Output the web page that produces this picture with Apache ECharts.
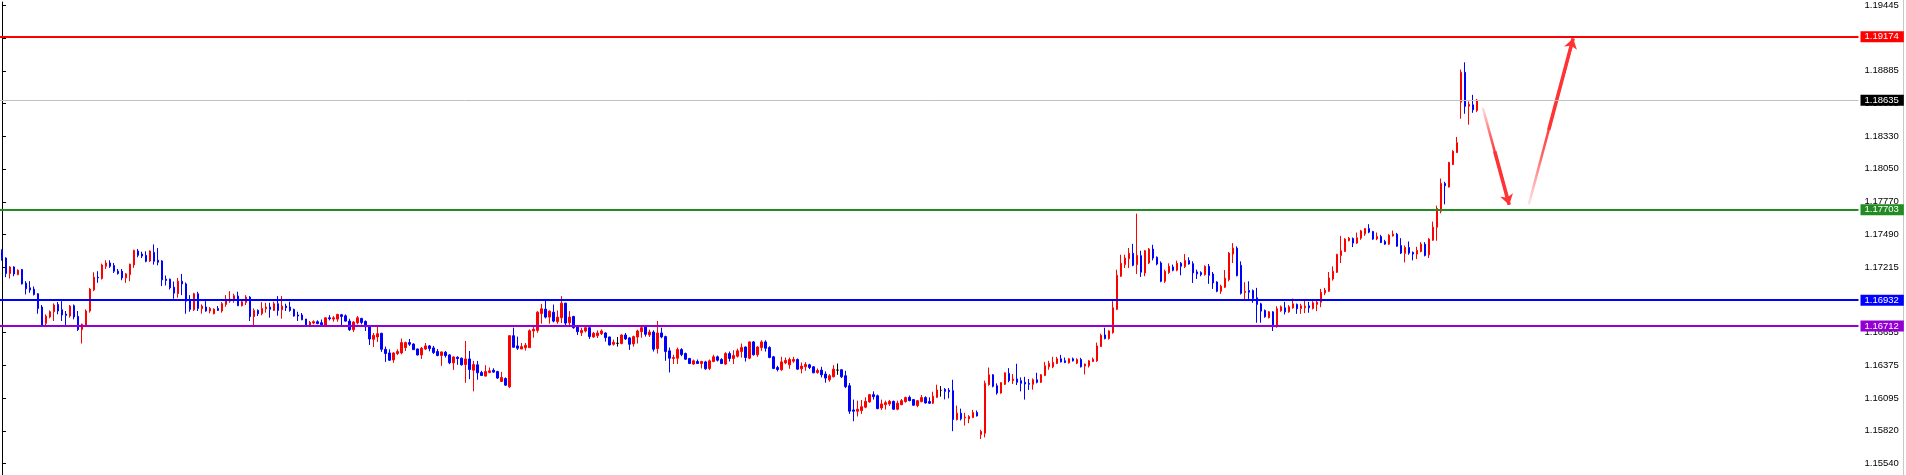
<!DOCTYPE html>
<html><head><meta charset="utf-8">
<script src="https://cdn.jsdelivr.net/npm/echarts@6/dist/echarts.min.js"></script>
<style>html,body{margin:0;padding:0;background:#fff;overflow:hidden}#c{width:1906px;height:475px}</style>
</head><body><div id="c"></div>
<script>
const opens = [
1.17356,1.17291,1.17159,1.17215,1.17150,1.17193,1.17077,1.17037,1.17026,1.16987,
1.16874,1.16735,1.16789,1.16834,1.16896,1.16851,1.16814,1.16797,1.16885,1.16795,
1.16682,1.16721,1.16840,1.17020,1.17128,1.17116,1.17221,1.17249,1.17227,1.17179,
1.17179,1.17122,1.17150,1.17232,1.17351,1.17325,1.17314,1.17266,1.17339,1.17272,
1.17266,1.17111,1.17111,1.17043,1.16987,1.17094,1.17071,1.16930,1.16851,1.16987,
1.16860,1.16874,1.16840,1.16817,1.16862,1.16840,1.16896,1.16924,1.16930,1.16967,
1.16885,1.16913,1.16958,1.16792,1.16845,1.16817,1.16860,1.16874,1.16845,1.16902,
1.16851,1.16882,1.16874,1.16854,1.16806,1.16806,1.16772,1.16710,1.16738,1.16749,
1.16740,1.16720,1.16782,1.16771,1.16771,1.16808,1.16799,1.16754,1.16681,1.16740,
1.16777,1.16751,1.16712,1.16599,1.16619,1.16650,1.16514,1.16483,1.16424,1.16478,
1.16483,1.16528,1.16571,1.16559,1.16517,1.16466,1.16517,1.16543,1.16526,1.16495,
1.16461,1.16489,1.16466,1.16399,1.16446,1.16438,1.16384,1.16432,1.16336,1.16382,
1.16317,1.16286,1.16317,1.16336,1.16325,1.16240,1.16266,1.16195,1.16630,1.16543,
1.16517,1.16528,1.16528,1.16670,1.16675,1.16819,1.16856,1.16788,1.16830,1.16749,
1.16782,1.16907,1.16740,1.16794,1.16703,1.16655,1.16670,1.16698,1.16619,1.16630,
1.16647,1.16653,1.16619,1.16557,1.16565,1.16563,1.16636,1.16611,1.16560,1.16619,
1.16664,1.16704,1.16636,1.16661,1.16520,1.16653,1.16622,1.16501,1.16436,1.16438,
1.16512,1.16478,1.16436,1.16388,1.16410,1.16393,1.16407,1.16351,1.16410,1.16450,
1.16427,1.16388,1.16478,1.16436,1.16455,1.16495,1.16534,1.16438,1.16577,1.16467,
1.16529,1.16577,1.16529,1.16450,1.16359,1.16340,1.16399,1.16382,1.16413,1.16427,
1.16348,1.16365,1.16382,1.16365,1.16317,1.16337,1.16303,1.16255,1.16280,1.16337,
1.16340,1.16289,1.16204,1.15998,1.15987,1.15992,1.16021,1.16066,1.16128,1.16119,
1.16015,1.16043,1.16049,1.16071,1.16004,1.16043,1.16069,1.16105,1.16086,1.16035,
1.16069,1.16103,1.16069,1.16055,1.16105,1.16165,1.16173,1.16165,1.16162,1.15916,
1.15970,1.15930,1.15922,1.15933,1.15976,1.15789,1.15800,1.16213,1.16297,1.16204,
1.16142,1.16216,1.16309,1.16247,1.16261,1.16247,1.16233,1.16224,1.16216,1.16255,
1.16233,1.16292,1.16365,1.16365,1.16393,1.16433,1.16416,1.16399,1.16433,1.16396,
1.16427,1.16371,1.16374,1.16410,1.16416,1.16537,1.16636,1.16605,1.16656,1.16854,
1.17136,1.17235,1.17285,1.17331,1.17235,1.17311,1.17164,1.17249,1.17367,1.17297,
1.17249,1.17093,1.17167,1.17215,1.17187,1.17246,1.17218,1.17269,1.17243,1.17173,
1.17167,1.17150,1.17220,1.17155,1.17087,1.17008,1.17042,1.17107,1.17325,1.17375,
1.17229,1.16997,1.17014,1.17014,1.16952,1.16901,1.16845,1.16783,1.16833,1.16706,
1.16842,1.16867,1.16833,1.16867,1.16896,1.16862,1.16867,1.16884,1.16862,1.16896,
1.16915,1.16994,1.17008,1.17113,1.17169,1.17313,1.17347,1.17440,1.17457,1.17418,
1.17460,1.17497,1.17542,1.17517,1.17454,1.17474,1.17432,1.17409,1.17480,1.17494,
1.17398,1.17330,1.17381,1.17339,1.17325,1.17347,1.17409,1.17319,1.17443,1.17553,
1.17690,1.17926,1.17895,1.18087,1.18189,1.18618,1.18872,1.18584,1.18595,1.18548
];
const closes = [
1.17286,1.17159,1.17215,1.17156,1.17187,1.17071,1.17029,1.17018,1.16981,1.16860,
1.16718,1.16797,1.16834,1.16891,1.16840,1.16806,1.16803,1.16882,1.16789,1.16682,
1.16727,1.16840,1.17026,1.17128,1.17122,1.17232,1.17249,1.17221,1.17179,1.17159,
1.17122,1.17156,1.17238,1.17356,1.17314,1.17308,1.17263,1.17351,1.17263,1.17255,
1.17105,1.17100,1.17037,1.16992,1.17094,1.17071,1.16924,1.16854,1.16987,1.16862,
1.16882,1.16840,1.16862,1.16857,1.16845,1.16902,1.16930,1.16941,1.16970,1.16885,
1.16919,1.16958,1.16792,1.16845,1.16817,1.16862,1.16874,1.16854,1.16902,1.16845,
1.16882,1.16868,1.16845,1.16797,1.16797,1.16766,1.16710,1.16744,1.16749,1.16733,
1.16723,1.16782,1.16774,1.16782,1.16811,1.16794,1.16754,1.16681,1.16746,1.16782,
1.16743,1.16706,1.16602,1.16633,1.16647,1.16514,1.16478,1.16421,1.16483,1.16495,
1.16571,1.16571,1.16557,1.16511,1.16466,1.16523,1.16543,1.16520,1.16486,1.16461,
1.16492,1.16461,1.16399,1.16449,1.16435,1.16382,1.16432,1.16342,1.16384,1.16314,
1.16291,1.16325,1.16331,1.16320,1.16269,1.16274,1.16209,1.16630,1.16531,1.16523,
1.16537,1.16548,1.16672,1.16684,1.16830,1.16859,1.16788,1.16839,1.16754,1.16788,
1.16907,1.16737,1.16788,1.16698,1.16664,1.16675,1.16698,1.16622,1.16650,1.16653,
1.16670,1.16613,1.16551,1.16574,1.16565,1.16636,1.16602,1.16557,1.16622,1.16670,
1.16698,1.16642,1.16661,1.16515,1.16653,1.16619,1.16495,1.16438,1.16444,1.16512,
1.16469,1.16430,1.16393,1.16416,1.16393,1.16410,1.16348,1.16416,1.16450,1.16421,
1.16393,1.16478,1.16436,1.16461,1.16501,1.16529,1.16444,1.16577,1.16467,1.16534,
1.16577,1.16523,1.16444,1.16351,1.16342,1.16407,1.16419,1.16427,1.16427,1.16345,
1.16371,1.16385,1.16359,1.16314,1.16334,1.16297,1.16269,1.16289,1.16345,1.16337,
1.16280,1.16196,1.15987,1.15987,1.16004,1.16026,1.16071,1.16128,1.16111,1.16009,
1.16049,1.16060,1.16071,1.16004,1.16055,1.16077,1.16103,1.16077,1.16038,1.16077,
1.16103,1.16057,1.16055,1.16114,1.16168,1.16165,1.16156,1.16153,1.15916,1.15970,
1.15922,1.15936,1.15942,1.15976,1.15947,1.15815,1.16224,1.16297,1.16199,1.16142,
1.16230,1.16314,1.16247,1.16261,1.16233,1.16224,1.16219,1.16216,1.16255,1.16233,
1.16297,1.16374,1.16393,1.16402,1.16433,1.16407,1.16402,1.16433,1.16416,1.16427,
1.16365,1.16388,1.16416,1.16430,1.16543,1.16633,1.16605,1.16670,1.16868,1.17144,
1.17246,1.17291,1.17331,1.17229,1.17314,1.17170,1.17353,1.17367,1.17291,1.17240,
1.17093,1.17178,1.17221,1.17187,1.17246,1.17221,1.17269,1.17240,1.17164,1.17156,
1.17150,1.17220,1.17144,1.17079,1.17008,1.17051,1.17119,1.17333,1.17375,1.17141,
1.16991,1.17008,1.17000,1.16946,1.16896,1.16839,1.16791,1.16833,1.16706,1.16859,
1.16876,1.16833,1.16876,1.16901,1.16859,1.16884,1.16881,1.16867,1.16910,1.16915,
1.17000,1.17017,1.17121,1.17178,1.17322,1.17353,1.17452,1.17460,1.17418,1.17463,
1.17522,1.17542,1.17511,1.17452,1.17474,1.17423,1.17409,1.17485,1.17494,1.17392,
1.17333,1.17381,1.17333,1.17325,1.17356,1.17409,1.17313,1.17452,1.17553,1.17712,
1.17926,1.17907,1.18104,1.18200,1.18273,1.18872,1.18582,1.18599,1.18553,1.18635
];
const lows = [
1.17269,1.17128,1.17116,1.17136,1.17145,1.17066,1.16981,1.16995,1.16972,1.16817,
1.16710,1.16713,1.16778,1.16755,1.16812,1.16755,1.16710,1.16783,1.16769,1.16670,
1.16563,1.16704,1.16826,1.17009,1.17080,1.17108,1.17198,1.17207,1.17164,1.17150,
1.17102,1.17080,1.17094,1.17207,1.17297,1.17291,1.17255,1.17258,1.17235,1.17229,
1.17052,1.17057,1.17023,1.16944,1.16953,1.16975,1.16817,1.16834,1.16840,1.16840,
1.16817,1.16834,1.16820,1.16812,1.16840,1.16826,1.16876,1.16910,1.16910,1.16882,
1.16879,1.16891,1.16755,1.16710,1.16797,1.16803,1.16826,1.16783,1.16840,1.16800,
1.16775,1.16840,1.16834,1.16792,1.16755,1.16761,1.16707,1.16704,1.16727,1.16727,
1.16712,1.16712,1.16760,1.16749,1.16749,1.16720,1.16749,1.16670,1.16661,1.16726,
1.16726,1.16670,1.16551,1.16534,1.16576,1.16492,1.16407,1.16415,1.16399,1.16466,
1.16472,1.16500,1.16543,1.16509,1.16461,1.16432,1.16509,1.16497,1.16475,1.16455,
1.16373,1.16444,1.16387,1.16339,1.16382,1.16376,1.16229,1.16260,1.16156,1.16255,
1.16286,1.16283,1.16311,1.16314,1.16263,1.16235,1.16204,1.16184,1.16528,1.16509,
1.16514,1.16503,1.16526,1.16613,1.16655,1.16732,1.16777,1.16732,1.16743,1.16732,
1.16737,1.16712,1.16712,1.16689,1.16636,1.16627,1.16658,1.16602,1.16613,1.16610,
1.16636,1.16580,1.16546,1.16546,1.16537,1.16557,1.16594,1.16509,1.16537,1.16563,
1.16613,1.16622,1.16619,1.16495,1.16478,1.16608,1.16416,1.16317,1.16388,1.16388,
1.16455,1.16424,1.16388,1.16382,1.16390,1.16351,1.16340,1.16337,1.16405,1.16410,
1.16388,1.16382,1.16410,1.16388,1.16444,1.16444,1.16410,1.16430,1.16461,1.16450,
1.16501,1.16495,1.16438,1.16345,1.16326,1.16331,1.16388,1.16348,1.16399,1.16340,
1.16309,1.16331,1.16345,1.16311,1.16306,1.16275,1.16230,1.16238,1.16275,1.16297,
1.16269,1.16184,1.15964,1.15902,1.15942,1.15964,1.16012,1.16060,1.16086,1.16004,
1.15998,1.16001,1.16032,1.15998,1.15995,1.16038,1.16060,1.16072,1.16032,1.16021,
1.16063,1.16052,1.16049,1.16049,1.16100,1.16111,1.16088,1.16097,1.15817,1.15908,
1.15908,1.15865,1.15885,1.15928,1.15942,1.15750,1.15764,1.16204,1.16190,1.16128,
1.16136,1.16210,1.16233,1.16219,1.16210,1.16156,1.16086,1.16168,1.16170,1.16224,
1.16227,1.16286,1.16340,1.16354,1.16388,1.16402,1.16396,1.16393,1.16410,1.16388,
1.16359,1.16300,1.16359,1.16405,1.16407,1.16534,1.16599,1.16597,1.16647,1.16848,
1.17130,1.17206,1.17206,1.17221,1.17156,1.17130,1.17136,1.17240,1.17271,1.17229,
1.17085,1.17079,1.17156,1.17178,1.17178,1.17144,1.17206,1.17235,1.17079,1.17113,
1.17136,1.17141,1.17071,1.17028,1.17000,1.16986,1.17037,1.17093,1.17248,1.17135,
1.16980,1.16932,1.16943,1.16910,1.16740,1.16740,1.16783,1.16777,1.16670,1.16698,
1.16833,1.16811,1.16825,1.16859,1.16816,1.16816,1.16822,1.16825,1.16853,1.16839,
1.16873,1.16975,1.17003,1.17099,1.17164,1.17248,1.17342,1.17432,1.17384,1.17412,
1.17446,1.17480,1.17502,1.17446,1.17443,1.17418,1.17404,1.17404,1.17474,1.17387,
1.17325,1.17254,1.17319,1.17271,1.17282,1.17339,1.17305,1.17291,1.17438,1.17438,
1.17672,1.17748,1.17892,1.18082,1.18186,1.18477,1.18519,1.18426,1.18527,1.18533
];
const highs = [
1.17365,1.17297,1.17221,1.17221,1.17195,1.17198,1.17094,1.17094,1.17049,1.16992,
1.16891,1.16812,1.16845,1.16905,1.16916,1.16924,1.16840,1.16891,1.16896,1.16840,
1.16733,1.16854,1.17037,1.17170,1.17179,1.17243,1.17272,1.17272,1.17249,1.17198,
1.17198,1.17164,1.17243,1.17362,1.17368,1.17345,1.17348,1.17356,1.17407,1.17376,
1.17272,1.17142,1.17116,1.17091,1.17122,1.17156,1.17083,1.16975,1.16995,1.17004,
1.16896,1.16924,1.16874,1.16862,1.16882,1.16916,1.16975,1.17009,1.16987,1.17004,
1.16930,1.16975,1.16967,1.16862,1.16854,1.16916,1.16910,1.16910,1.16919,1.16967,
1.16967,1.16902,1.16919,1.16860,1.16834,1.16823,1.16772,1.16755,1.16761,1.16761,
1.16768,1.16788,1.16805,1.16797,1.16816,1.16816,1.16811,1.16774,1.16754,1.16797,
1.16782,1.16760,1.16718,1.16653,1.16720,1.16655,1.16537,1.16514,1.16489,1.16514,
1.16605,1.16579,1.16602,1.16565,1.16520,1.16534,1.16568,1.16551,1.16543,1.16517,
1.16495,1.16500,1.16472,1.16455,1.16455,1.16444,1.16585,1.16500,1.16415,1.16415,
1.16331,1.16379,1.16359,1.16353,1.16331,1.16322,1.16274,1.16633,1.16698,1.16622,
1.16568,1.16568,1.16684,1.16703,1.16839,1.16901,1.16941,1.16845,1.16895,1.16845,
1.16966,1.16910,1.16839,1.16799,1.16712,1.16698,1.16720,1.16712,1.16661,1.16675,
1.16684,1.16659,1.16622,1.16597,1.16619,1.16642,1.16653,1.16619,1.16630,1.16681,
1.16715,1.16721,1.16681,1.16676,1.16755,1.16698,1.16630,1.16529,1.16467,1.16529,
1.16523,1.16486,1.16441,1.16427,1.16427,1.16416,1.16416,1.16427,1.16467,1.16461,
1.16438,1.16489,1.16495,1.16506,1.16520,1.16563,1.16537,1.16580,1.16585,1.16540,
1.16591,1.16591,1.16540,1.16458,1.16374,1.16450,1.16444,1.16444,1.16450,1.16436,
1.16402,1.16405,1.16390,1.16371,1.16351,1.16365,1.16326,1.16303,1.16379,1.16393,
1.16345,1.16331,1.16227,1.16086,1.16077,1.16083,1.16105,1.16134,1.16156,1.16128,
1.16086,1.16077,1.16083,1.16077,1.16077,1.16091,1.16111,1.16120,1.16091,1.16083,
1.16125,1.16114,1.16105,1.16153,1.16213,1.16201,1.16184,1.16184,1.16255,1.16035,
1.16009,1.15973,1.15953,1.15998,1.15993,1.15829,1.16247,1.16359,1.16303,1.16224,
1.16235,1.16317,1.16354,1.16303,1.16391,1.16275,1.16280,1.16261,1.16266,1.16314,
1.16303,1.16407,1.16416,1.16450,1.16450,1.16467,1.16444,1.16438,1.16444,1.16438,
1.16441,1.16393,1.16422,1.16444,1.16571,1.16647,1.16698,1.16676,1.16924,1.17192,
1.17319,1.17319,1.17376,1.17412,1.17669,1.17353,1.17359,1.17376,1.17404,1.17305,
1.17263,1.17192,1.17246,1.17235,1.17269,1.17257,1.17325,1.17297,1.17263,1.17192,
1.17178,1.17229,1.17240,1.17172,1.17093,1.17065,1.17189,1.17342,1.17418,1.17390,
1.17263,1.17085,1.17093,1.17023,1.17037,1.16910,1.16853,1.16839,1.16839,1.16881,
1.16887,1.16918,1.16890,1.16946,1.16904,1.16901,1.16938,1.16918,1.16924,1.16938,
1.17028,1.17037,1.17172,1.17220,1.17327,1.17480,1.17460,1.17469,1.17466,1.17508,
1.17531,1.17545,1.17579,1.17522,1.17508,1.17488,1.17446,1.17494,1.17525,1.17505,
1.17460,1.17398,1.17432,1.17347,1.17387,1.17426,1.17426,1.17460,1.17601,1.17737,
1.17968,1.17940,1.18110,1.18209,1.18322,1.18895,1.18957,1.18624,1.18680,1.18645
];
// total bar slots across the plot (candles + empty space on the right)
const slotCount = 465;
const tickLabels = ['1.19445','1.19165','1.18885','1.18605','1.18330','1.18050','1.17770','1.17490','1.17215','1.16935','1.16655','1.16375','1.16095','1.15820','1.15540'];
const levelValues = [1.19174, 1.18635, 1.17703, 1.16932, 1.16712];
// arrows: [barIndex, price] start and end
const arrowStarts = [[370.5, 1.18571], [382.0, 1.17746]];
const arrowEnds = [[377.1, 1.17745], [393.1, 1.19160]];
const yMin = 1.15444, yMax = 1.19470;

const levelStyles = [
  {line:'#ff0000', bg:'#ff0000', w:2},
  {line:'#c0c0c0', bg:'#000000', w:1},
  {line:'#228b22', bg:'#228b22', w:2},
  {line:'#0000ff', bg:'#0000ff', w:2},
  {line:'#9400d3', bg:'#9400d3', w:2}
];

const categories = Array.from({length: slotCount}, (_, i) => String(i));
const candleData = opens.map((o, i) => [o, closes[i], lows[i], highs[i]]);
const tickValues = tickLabels.map(Number);
const FONT = 'Liberation Sans';

// arrow decoration: fading thin tail over the whole length + thick head segment
const tails = arrowStarts.map((s, i) => {
  const e = arrowEnds[i];
  const down = e[1] < s[1];
  return {coords: [s, e], lineStyle: {width: 2.5, color: new echarts.graphic.LinearGradient(0, down ? 0 : 1, 0, down ? 1 : 0,
    [{offset: 0, color: 'rgba(255,60,60,0.1)'}, {offset: 0.3, color: 'rgba(255,50,50,0.75)'}, {offset: 0.5, color: '#ff3333'}, {offset: 1, color: '#ff3333'}])}};
});
const heads = arrowStarts.map((s, i) => {
  const e = arrowEnds[i];
  const m = [s[0] + (e[0] - s[0]) * 0.45, s[1] + (e[1] - s[1]) * 0.45];
  return {coords: [m, e]};
});

const chart = echarts.init(document.getElementById('c'), null, {renderer: 'canvas'});
chart.setOption({
  animation: false,
  backgroundColor: '#ffffff',
  grid: {left: -1.5, right: 47.5, top: 0, bottom: 0, containLabel: false},
  xAxis: [
    {type: 'category', data: categories, show: false, boundaryGap: true},
    {type: 'value', min: -0.5, max: slotCount - 0.5, show: false}
  ],
  yAxis: {
    type: 'value', position: 'right', min: yMin, max: yMax, offset: 2, scale: true,
    splitLine: {show: false},
    axisLine: {show: true, lineStyle: {color: '#000000', width: 1}},
    axisTick: {show: true, length: 4, lineStyle: {color: '#000000'}, customValues: tickValues},
    axisLabel: {customValues: tickValues, formatter: v => Number(v).toFixed(5), color: '#000000',
      fontSize: 9.5, fontFamily: FONT, margin: 4, padding: [1, 0, 0, 0]}
  },
  series: [
    {
      type: 'candlestick', data: candleData, barWidth: 2, clip: false,
      itemStyle: {color: '#ff0000', color0: '#0000ff', borderColor: '#ff0000', borderColor0: '#0000ff',
        borderColorDoji: '#000000', borderWidth: 1},
      markLine: {
        silent: true, symbol: 'none', animation: false, precision: 5,
        data: levelValues.map((v, i) => ({
          yAxis: v,
          lineStyle: {color: levelStyles[i].line, width: levelStyles[i].w, type: 'solid'},
          label: {show: true, position: 'end', distance: 2, formatter: p => Number(p.value).toFixed(5),
            color: '#ffffff', backgroundColor: levelStyles[i].bg, fontSize: 9.5, fontFamily: FONT,
            lineHeight: 10, padding: [1, 5, 0, 4]}
        }))
      }
    },
    {
      type: 'lines', coordinateSystem: 'cartesian2d', xAxisIndex: 1, yAxisIndex: 0,
      symbol: 'none', silent: true, lineStyle: {opacity: 1}, data: tails
    },
    {
      type: 'lines', coordinateSystem: 'cartesian2d', xAxisIndex: 1, yAxisIndex: 0,
      symbol: ['none', 'arrow'], symbolSize: [9, 10], silent: true,
      lineStyle: {color: '#ff3333', width: 3.5, opacity: 1},
      data: heads
    }
  ],
  graphic: [{type: 'rect', right: 2, top: 0, shape: {width: 1, height: 475}, style: {fill: '#c8c8c8'}, silent: true}]
});
</script>
</body></html>
